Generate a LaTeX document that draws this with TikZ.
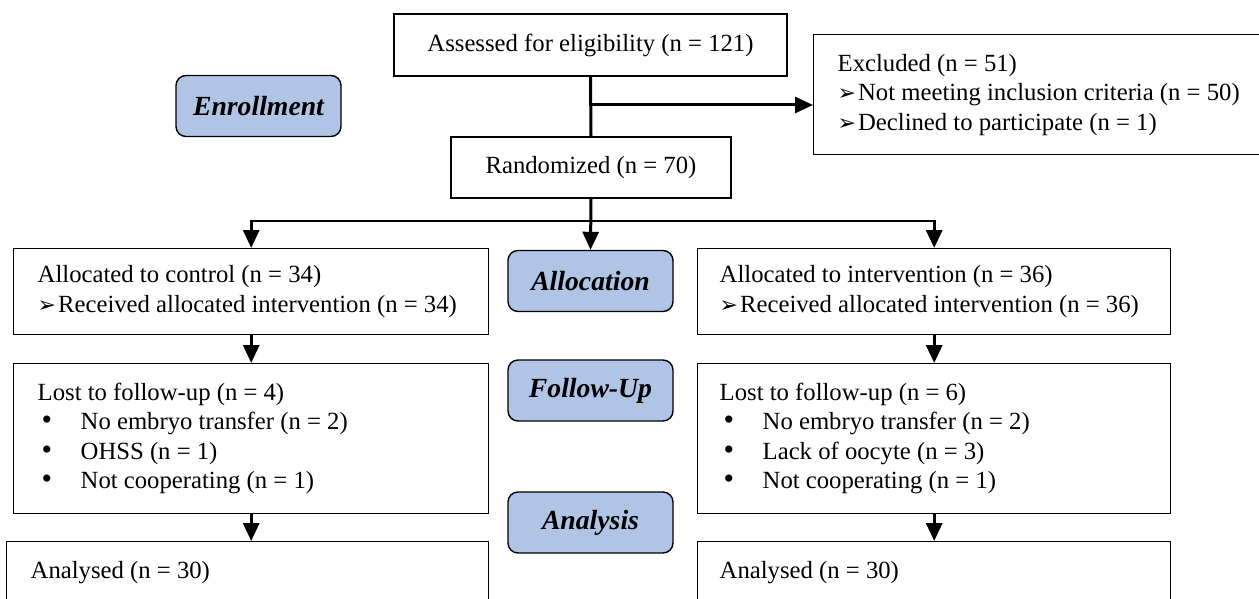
\documentclass[tikz,border=0pt]{standalone}
\usepackage{fontspec}
\setmainfont{Liberation Serif}
\newfontfamily\symfont{DejaVu Sans}
\usetikzlibrary{arrows.meta}
\definecolor{lblue}{RGB}{176,196,230}
\newcommand{\arrowbullet}{{\symfont\fontsize{22}{22}\selectfont ➢}\hspace{2pt}}
\newcommand{\dotitem}[1]{\makebox[43pt][l]{\hspace{4pt}{\fontsize{30}{30}\selectfont •}}#1}
\begin{document}
\begin{tikzpicture}[x=1pt,y=-1pt,
  box/.style={draw,line width=1.4pt,inner xsep=22pt,inner ysep=0pt,align=flush left,anchor=north west,font=\fontsize{24.7}{29.5}\selectfont},
  cbox/.style={draw,line width=1.4pt,inner sep=0pt,align=center,font=\fontsize{24.7}{29.5}\selectfont},
  stage/.style={draw,line width=1.4pt,fill=lblue,rounded corners=10pt,inner sep=0pt,minimum width=165pt,minimum height=61pt,font=\fontsize{27.7}{30}\selectfont\bfseries\itshape},
  arr/.style={line width=3pt,-{Triangle[length=18pt,width=16pt]}},
  thickline/.style={line width=3pt},
  thinline/.style={line width=2pt}]
\useasboundingbox (0,0) rectangle (1259,599);

% top part
\node[cbox,minimum width=393pt,minimum height=62pt] (assessed) at (590.5,45) {Assessed for eligibility (n = 121)};
\node[cbox,minimum width=280pt,minimum height=61pt] (randomized) at (591,167.5) {Randomized (n = 70)};
\node[box,inner xsep=24pt,text width=412pt,minimum height=120pt] (excluded) at (813,34) {Excluded (n = 51)\\\arrowbullet Not meeting inclusion criteria (n = 50)\\\arrowbullet Declined to participate (n = 1)};

% stage labels
\node[stage] (enroll) at (258.5,106) {Enrollment};
\node[stage] (alloc) at (590.5,281) {Allocation};
\node[stage] (follow) at (590.5,390.5) {Follow-Up};
\node[stage] (analysis) at (590.5,522.5) {Analysis};

% left column
\node[box,inner xsep=24pt,text width=427pt,minimum height=86pt] (ctrl) at (13,248) {Allocated to control (n = 34)\\\arrowbullet Received allocated intervention (n = 34)};
\node[box,inner xsep=24pt,text width=427pt,minimum height=150pt] (lostc) at (13,363) {Lost to follow-up (n = 4)\\\dotitem{No embryo transfer (n = 2)}\\\dotitem{OHSS (n = 1)}\\\dotitem{Not cooperating (n = 1)}};
\node[box,inner xsep=24pt,text width=434pt,minimum height=62pt] (anac) at (6,541) {Analysed (n = 30)};

% right column
\node[box,text width=429pt,minimum height=86pt] (intv) at (697,248) {Allocated to intervention (n = 36)\\\arrowbullet Received allocated intervention (n = 36)};
\node[box,text width=429pt,minimum height=150pt] (losti) at (697,363) {Lost to follow-up (n = 6)\\\dotitem{No embryo transfer (n = 2)}\\\dotitem{Lack of oocyte (n = 3)}\\\dotitem{Not cooperating (n = 1)}};
\node[box,text width=429pt,minimum height=62pt] (anai) at (697,541) {Analysed (n = 30)};

% connectors
\draw[thickline] (assessed.south) -- (randomized.north);
\coordinate (br) at (590.5,105);
\draw[arr] (br) -- (br -| excluded.west);
\draw[arr] (randomized.south) -- (alloc.north);
\coordinate (hl) at (ctrl.north |- 0,221);
\coordinate (hr) at (intv.north |- 0,221);
\draw[thinline] (hl) -- (hr);
\draw[arr] ([yshift=1pt]hl) -- (ctrl.north);
\draw[arr] ([yshift=1pt]hr) -- (intv.north);
\draw[arr] (ctrl.south) -- (lostc.north);
\draw[arr] (lostc.south) -- (lostc.south |- anac.north);
\draw[arr] (intv.south) -- (losti.north);
\draw[arr] (losti.south) -- (anai.north);
\end{tikzpicture}
\end{document}
